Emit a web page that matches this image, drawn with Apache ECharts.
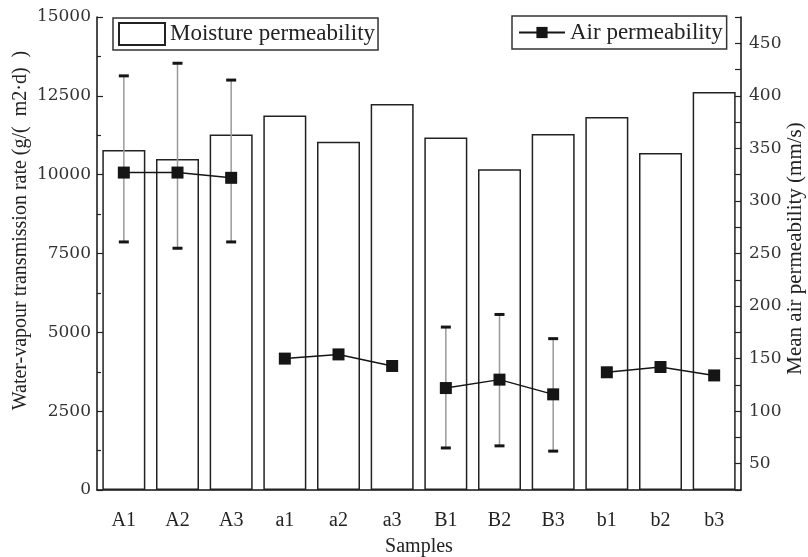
<!DOCTYPE html>
<html>
<head>
<meta charset="utf-8">
<script src="https://cdn.jsdelivr.net/npm/echarts@6/dist/echarts.min.js"></script>
<style>html,body{margin:0;padding:0;background:#fff;}#c{width:808px;height:557px;}</style>
</head>
<body>
<div id="c"></div>
<script>
var categories = ['A1','A2','A3','a1','a2','a3','B1','B2','B3','b1','b2','b3'];
var moisture = [10780, 10500, 11270, 11880, 11045, 12240, 11175, 10170, 11290, 11830, 10690, 12620];
var air = [327, 327, 322, 150, 154, 143, 122, 130, 116, 137, 142, 134];
var airHigh = [419, 431, 415, null, null, null, 180, 192, 169, null, null, null];
var airLow = [261, 255, 261, null, null, null, 65, 67, 62, null, null, null];
var groups = [[0,1,2],[3,4,5],[6,7,8],[9,10,11]];
var leftTicks = [0, 2500, 5000, 7500, 10000, 12500, 15000];
var rightTicks = [50, 100, 150, 200, 250, 300, 350, 400, 450];

var serif = 'Liberation Serif';
var numFont = 'DejaVu Serif';

var lineSeries = groups.map(function (g) {
  return {
    name: 'Air permeability',
    type: 'line',
    yAxisIndex: 1,
    z: 5,
    symbol: 'rect',
    symbolSize: 12,
    itemStyle: { color: '#151515' },
    lineStyle: { color: '#151515', width: 1.5 },
    data: air.map(function (v, i) { return g.indexOf(i) >= 0 ? v : '-'; })
  };
});

var errData = [];
for (var i = 0; i < categories.length; i++) {
  if (airHigh[i] != null) errData.push([i, airLow[i], airHigh[i]]);
}

var chart = echarts.init(document.getElementById('c'));
chart.setOption({
  animation: false,
  backgroundColor: '#fff',
  grid: { left: 97, right: 67, top: 17, bottom: 67, containLabel: false, outerBoundsMode: 'none' },
  legend: [
    {
      data: [{ name: 'Moisture permeability', icon: 'rect' }],
      left: 113, top: 18,
      itemWidth: 46, itemHeight: 22,
      padding: [4, 3, 4, 5],
      borderColor: '#333', borderWidth: 1.5,
      textStyle: { fontFamily: serif, fontSize: 23, color: '#222' }
    },
    {
      data: ['Air permeability'],
      left: 512, top: 16,
      itemWidth: 46, itemHeight: 14,
      padding: [5, 4, 5, 6],
      borderColor: '#333', borderWidth: 1.5,
      textStyle: { fontFamily: serif, fontSize: 23, color: '#222' }
    }
  ],
  xAxis: {
    type: 'category',
    data: categories,
    name: 'Samples',
    nameLocation: 'middle',
    nameGap: 47,
    nameMoveOverlap: false,
    nameTextStyle: { fontFamily: serif, fontSize: 20, color: '#222' },
    axisLine: { lineStyle: { color: '#111', width: 1.5 } },
    axisTick: { show: true, inside: true, alignWithLabel: true, length: 7, lineStyle: { color: '#222', width: 1.2 } },
    axisLabel: { fontFamily: serif, fontSize: 20, color: '#222', margin: 21 },
    splitLine: { show: false }
  },
  yAxis: [
    {
      type: 'value',
      min: leftTicks[0], max: leftTicks[leftTicks.length - 1], interval: 2500,
      name: 'Water-vapour transmission rate (g/(  m2·d)  )',
      nameLocation: 'middle',
      nameGap: 66,
      nameMoveOverlap: false,
      nameTextStyle: { fontFamily: serif, fontSize: 20, color: '#222', padding: [0, 0, 0, 46] },
      axisLine: { show: true, lineStyle: { color: '#111', width: 1.5 } },
      axisTick: { show: true, inside: true, length: 6, lineStyle: { color: '#222', width: 1.2 } },
      minorTick: { show: true, splitNumber: 2, length: 4, lineStyle: { color: '#222', width: 1.2 } },
      axisLabel: {
        fontFamily: numFont, fontSize: 17, color: '#333', margin: 6,
        formatter: function (v) { return String(v); }
      },
      splitLine: { show: false }
    },
    {
      type: 'value',
      position: 'right',
      min: 25, max: 475, interval: 25,
      name: 'Mean air permeability (mm/s)',
      nameLocation: 'middle',
      nameGap: 44,
      nameMoveOverlap: false,
      nameTextStyle: { fontFamily: serif, fontSize: 21, color: '#222', padding: [0, 0, 0, 10] },
      axisLine: { show: true, lineStyle: { color: '#111', width: 1.5 } },
      axisTick: { show: true, inside: true, length: 6, lineStyle: { color: '#222', width: 1.2 } },
      axisLabel: {
        fontFamily: numFont, fontSize: 17, color: '#333', margin: 8,
        formatter: function (v) { return rightTicks.indexOf(v) >= 0 ? String(v) : ''; }
      },
      splitLine: { show: false }
    }
  ],
  series: [
    {
      name: 'Moisture permeability',
      type: 'bar',
      barWidth: 43,
      z: 2,
      itemStyle: { color: '#fff', borderColor: '#222', borderWidth: 1.5 },
      data: moisture
    },
    {
      name: 'err',
      type: 'custom',
      yAxisIndex: 1,
      z: 4,
      renderItem: function (params, api) {
        var lo = api.coord([api.value(0), api.value(1)]);
        var hi = api.coord([api.value(0), api.value(2)]);
        var x = lo[0];
        return {
          type: 'group',
          children: [
            { type: 'line', shape: { x1: x, y1: lo[1], x2: x, y2: hi[1] }, style: { stroke: '#9a9a9a', lineWidth: 1.5 } },
            { type: 'rect', shape: { x: x - 5, y: hi[1] - 1.5, width: 10, height: 3 }, style: { fill: '#151515' } },
            { type: 'rect', shape: { x: x - 5, y: lo[1] - 1.5, width: 10, height: 3 }, style: { fill: '#151515' } }
          ]
        };
      },
      encode: { x: 0, y: [1, 2] },
      data: errData
    }
  ].concat(lineSeries)
});
</script>
</body>
</html>
